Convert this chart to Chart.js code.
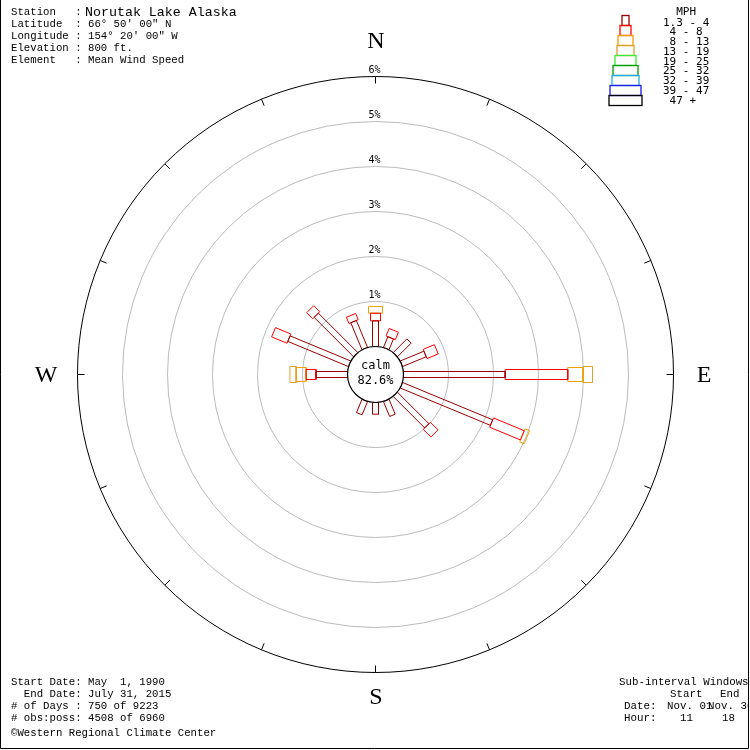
<!DOCTYPE html>
<html>
<head>
<meta charset="utf-8">
<script src="https://cdn.jsdelivr.net/npm/chart.js@4.4.0/dist/chart.umd.min.js"></script>
<style>
  html, body { margin: 0; padding: 0; background: #fff; }
  #wrap { width: 750px; height: 750px; }
</style>
</head>
<body>
<div id="wrap"><canvas id="rose" width="750" height="750"></canvas></div>
<script>
// wind directions, clockwise from north
const directions = ["N", "NNE", "NE", "ENE", "E", "ESE", "SE", "SSE",
                    "S", "SSW", "SW", "WSW", "W", "WNW", "NW", "NNW"];
const speedClasses = ["1.3 - 4", " 4 - 8", " 8 - 13", "13 - 19", "19 - 25",
                      "25 - 32", "32 - 39", "39 - 47", " 47 +"];

// percent of observations per direction, one array per speed class
const mph1to4   = [0.57, 0.26, 0.43, 0.57, 2.26, 2.17, 0.99, 0.36, 0.26, 0.32, 0, 0, 0.70, 1.46, 1.24, 0.65];
const mph4to8   = [0.17, 0.18, 0,    0.27, 1.39, 0.74, 0.24, 0,    0,    0,    0, 0, 0.22, 0.37, 0.19, 0.15];
const mph8to13  = [0.15, 0,    0,    0,    0.34, 0.11, 0,    0,    0,    0,    0, 0, 0.22, 0,    0,    0];
const mph13to19 = [0,    0,    0,    0,    0.21, 0,    0,    0,    0,    0,    0, 0, 0.14, 0,    0,    0];
const mph19to25 = [0, 0, 0, 0, 0, 0, 0, 0, 0, 0, 0, 0, 0, 0, 0, 0];
const mph25to32 = [0, 0, 0, 0, 0, 0, 0, 0, 0, 0, 0, 0, 0, 0, 0, 0];
const mph32to39 = [0, 0, 0, 0, 0, 0, 0, 0, 0, 0, 0, 0, 0, 0, 0, 0];
const mph39to47 = [0, 0, 0, 0, 0, 0, 0, 0, 0, 0, 0, 0, 0, 0, 0, 0];
const mph47up   = [0, 0, 0, 0, 0, 0, 0, 0, 0, 0, 0, 0, 0, 0, 0, 0];
const ringPercents = [1, 2, 3, 4, 5, 6];
const calmPercent = 82.6;

const series = [mph1to4, mph4to8, mph8to13, mph13to19, mph19to25,
                mph25to32, mph32to39, mph39to47, mph47up];

// styles
const classColors = ["#990000", "#ff0000", "#f0a000", "#e0a030", "#33ee33",
                     "#009900", "#22aaee", "#1a1ae0", "#000000"];
const classWidths = [6, 10, 14, 16, 20, 24, 26, 30, 32];
const PX_PER_PCT = 45;
const CALM_R = 28 / PX_PER_PCT;   // bars start at the calm circle

function barPolygon(dirIndex, r0, r1, halfW) {
  const a = dirIndex * 22.5 * Math.PI / 180;
  const ux = Math.sin(a), uy = Math.cos(a);
  const nx = Math.cos(a), ny = -Math.sin(a);
  const p = (r, s) => ({ x: r * ux + s * halfW * nx, y: r * uy + s * halfW * ny });
  return [p(r0, -1), p(r1, -1), p(r1, 1), p(r0, 1), p(r0, -1)];
}

const datasets = [];
directions.forEach((dir, d) => {
  let cum = 0;
  series.forEach((vals, c) => {
    const v = vals[d];
    if (v > 0) {
      datasets.push({
        label: dir + " " + speedClasses[c],
        data: barPolygon(d, CALM_R + cum, CALM_R + cum + v, classWidths[c] / 2 / PX_PER_PCT),
        showLine: true,
        borderColor: classColors[c],
        borderWidth: 1,
        pointRadius: 0,
        fill: false,
        tension: 0
      });
    }
    cum += v;
  });
});

const MONO = "'Liberation Mono', monospace";
const headerLines = [
  ["Station   : ", 12], ["Latitude  : 66\u00b0 50' 00\" N", 24],
  ["Longitude : 154\u00b0 20' 00\" W", 36], ["Elevation : 800 ft.", 48],
  ["Element   : Mean Wind Speed", 60]
];
const footerLines = [
  ["Start Date: May  1, 1990", 682], ["  End Date: July 31, 2015", 694],
  ["# of Days : 750 of 9223", 706], ["# obs:poss: 4508 of 6960", 718],
  ["\u00a9Western Regional Climate Center", 733]
];
const windowTexts = [
  ["Sub-interval Windows", 619, 682], ["Start", 670, 694], ["End", 720, 694],
  ["Date:", 624, 706], ["Nov. 01", 667, 706], ["Nov. 30", 708, 706],
  ["Hour:", 624, 718], ["11", 680, 718], ["18", 722, 718]
];

const rosePlugin = {
  id: "rose",
  beforeDraw(chart) {
    const ctx = chart.ctx;
    ctx.save();
    ctx.fillStyle = "#fff";
    ctx.fillRect(0, 0, chart.width, chart.height);
    ctx.restore();
  },
  beforeDatasetsDraw(chart) {
    const ctx = chart.ctx;
    const sx = chart.scales.x, sy = chart.scales.y;
    const cx = sx.getPixelForValue(0), cy = sy.getPixelForValue(0);
    ctx.save();
    ringPercents.forEach((p) => {
      const r = sx.getPixelForValue(CALM_R + p) - cx;
      ctx.beginPath();
      ctx.arc(cx, cy, r, 0, Math.PI * 2);
      ctx.strokeStyle = p === 6 ? "#000" : "#bbbbbb";
      ctx.lineWidth = 1;
      ctx.stroke();
      ctx.fillStyle = "#000";
      ctx.font = "10px 'DejaVu Sans Mono', monospace";
      ctx.textAlign = "center";
      ctx.textBaseline = "bottom";
      ctx.fillText(p + "%", cx - 1, cy - r - 1);
    });
    // ticks on the outer ring
    const rOut = sx.getPixelForValue(CALM_R + 6) - cx;
    ctx.strokeStyle = "#000";
    directions.forEach((dir, d) => {
      const a = d * 22.5 * Math.PI / 180;
      ctx.beginPath();
      ctx.moveTo(cx + rOut * Math.sin(a), cy - rOut * Math.cos(a));
      ctx.lineTo(cx + (rOut - 7) * Math.sin(a), cy - (rOut - 7) * Math.cos(a));
      ctx.stroke();
    });
    ctx.restore();
  },
  afterDatasetsDraw(chart) {
    const ctx = chart.ctx;
    const sx = chart.scales.x, sy = chart.scales.y;
    const cx = sx.getPixelForValue(0), cy = sy.getPixelForValue(0);
    const rCalm = sx.getPixelForValue(CALM_R) - cx;
    ctx.save();
    // calm circle
    ctx.beginPath();
    ctx.arc(cx, cy, rCalm, 0, Math.PI * 2);
    ctx.fillStyle = "#fff";
    ctx.fill();
    ctx.strokeStyle = "#000";
    ctx.lineWidth = 1.2;
    ctx.stroke();
    ctx.fillStyle = "#000";
    ctx.font = "12px 'DejaVu Sans Mono', monospace";
    ctx.textAlign = "center";
    ctx.textBaseline = "middle";
    ctx.fillText("calm", cx, cy - 9);
    ctx.fillText(calmPercent.toFixed(1) + "%", cx, cy + 6);

    // compass letters
    ctx.font = "24px 'Liberation Serif', serif";
    ctx.fillText("N", 376, 42);
    ctx.fillText("E", 704, 376);
    ctx.fillText("S", 376, 698);
    ctx.fillText("W", 46, 376);

    // header / footer
    ctx.textAlign = "left";
    ctx.font = "10.7px " + MONO;
    headerLines.forEach(([t, y]) => ctx.fillText(t, 11, y));
    footerLines.forEach(([t, y]) => ctx.fillText(t, 11, y));
    ctx.font = "13.3px " + MONO;
    ctx.fillText("Norutak Lake Alaska", 85, 12);

    ctx.save();
    ctx.beginPath();
    ctx.rect(0, 0, 748, 750);
    ctx.clip();
    ctx.font = "10.8px " + MONO;
    windowTexts.forEach(([t, x, y]) => ctx.fillText(t, x, y));
    ctx.restore();

    // speed legend
    ctx.font = "11px 'DejaVu Sans Mono', monospace";
    ctx.fillText("  MPH", 663, 11.7);
    speedClasses.forEach((label, c) => {
      const w = classWidths[c] + 1;
      ctx.strokeStyle = classColors[c];
      ctx.lineWidth = 1.3;
      ctx.strokeRect(625.5 - w / 2, 15 + 10 * c + 0.5, w, 10);
      ctx.fillStyle = "#000";
      ctx.fillText(label, 663, 22.7 + 9.75 * c);
    });

    // frame
    ctx.strokeStyle = "#000";
    ctx.lineWidth = 1;
    ctx.beginPath();
    ctx.moveTo(0.5, 0);
    ctx.lineTo(0.5, 748.5);
    ctx.lineTo(748.5, 748.5);
    ctx.lineTo(748.5, 0);
    ctx.stroke();
    ctx.restore();
  }
};

new Chart(document.getElementById("rose"), {
  type: "scatter",
  data: { datasets: datasets },
  options: {
    responsive: false,
    animation: false,
    devicePixelRatio: 1,
    layout: { padding: 0 },
    plugins: {
      legend: { display: false },
      tooltip: { enabled: false }
    },
    scales: {
      x: { type: "linear", display: false, min: -375.5 / PX_PER_PCT, max: 374.5 / PX_PER_PCT },
      y: { type: "linear", display: false, min: -375.5 / PX_PER_PCT, max: 374.5 / PX_PER_PCT }
    }
  },
  plugins: [rosePlugin]
});
</script>
</body>
</html>
